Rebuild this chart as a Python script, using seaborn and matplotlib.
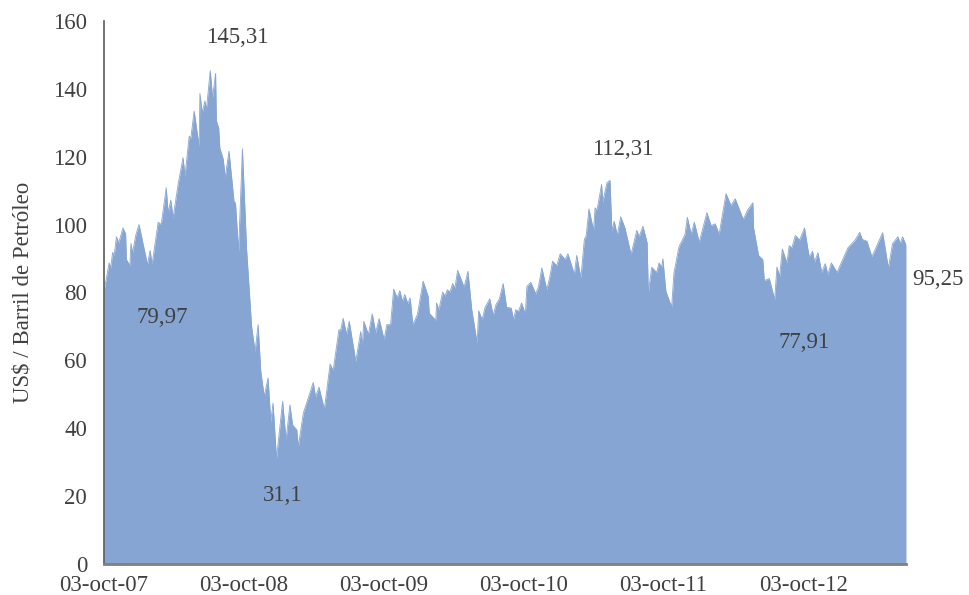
import pandas as pd
import numpy as np
import matplotlib
matplotlib.use("Agg")
import matplotlib.pyplot as plt
import seaborn as sns

# WTI price, US$ per barrel (days after 03-oct-07)
start = pd.Timestamp("2007-10-03")
days = [0, 14, 18, 23, 27, 33, 39, 50, 57, 59, 68, 71, 75, 84, 92, 114, 121, 126,
        142, 150, 163, 168, 175, 181, 194, 207, 212, 223, 227, 236, 249, 251, 257,
        264, 268, 278, 284, 292, 294, 300, 303, 312, 317, 327, 340, 344, 352, 362,
        373, 386, 395, 403, 410, 419, 429, 436, 442, 451, 467, 476, 486, 493, 504,
        508, 521, 547, 553, 562, 576, 591, 599, 614, 619, 625, 634, 641, 658, 671,
        675, 679, 691, 701, 710, 719, 732, 739, 749, 757, 766, 773, 780, 786, 794,
        800, 807, 819, 834, 847, 850, 867, 869, 875, 885, 891, 897, 904, 911, 917,
        924, 941, 951, 961, 975, 979, 988, 996, 1008, 1017, 1024, 1033, 1043, 1052,
        1064, 1070, 1076, 1083, 1091, 1101, 1105, 1115, 1128, 1135, 1144, 1157,
        1165, 1172, 1183, 1192, 1205, 1212, 1229, 1235, 1246, 1255, 1260, 1267,
        1279, 1283, 1288, 1300, 1303, 1314, 1322, 1327, 1333, 1341, 1350, 1361,
        1377, 1392, 1398, 1408, 1419, 1422, 1431, 1444, 1450, 1457, 1460, 1468,
        1483, 1489, 1502, 1518, 1524, 1534, 1542, 1555, 1575, 1586, 1597, 1607,
        1625, 1638, 1649, 1670, 1681, 1695, 1697, 1710, 1721, 1725, 1738, 1752,
        1758, 1765, 1772, 1784, 1790, 1797, 1806, 1817, 1830, 1842, 1851, 1856,
        1865, 1875, 1884, 1891, 1900, 1915, 1943, 1962, 1974, 1981, 1993, 2006,
        2034, 2049, 2060, 2074, 2080, 2086, 2095]
prices = [79.97, 88.7, 87.2, 91.8, 90.7, 96.4, 94.6, 99.0, 97.3, 89.7, 87.9, 94.4,
          91.7, 97.1, 100.0, 88.2, 92.4, 88.2, 100.7, 100.0, 110.8, 103.5, 107.2,
          102.0, 111.8, 119.7, 114.3, 126.0, 125.3, 133.4, 122.9, 138.6, 132.9,
          136.4, 133.9, 145.31, 137.4, 144.5, 130.5, 128.5, 122.6, 119.2, 113.8,
          121.6, 106.9, 106.2, 92.1, 122.3, 92.6, 70.0, 62.6, 70.5, 56.7, 49.4,
          54.8, 42.0, 47.4, 31.1, 47.9, 36.6, 46.9, 41.0, 39.5, 34.6, 44.4, 53.5,
          49.2, 52.1, 45.6, 58.9, 57.0, 69.0, 69.0, 72.4, 67.6, 71.5, 59.7, 68.5,
          64.1, 71.5, 67.6, 73.7, 68.2, 72.3, 66.1, 70.5, 70.5, 81.0, 78.4, 80.5,
          77.4, 79.4, 76.7, 78.4, 70.5, 73.5, 83.3, 78.9, 73.9, 71.8, 76.9, 74.9,
          80.1, 78.9, 80.8, 80.1, 82.6, 81.3, 86.5, 81.6, 86.2, 74.9, 65.1, 74.6,
          72.0, 75.7, 78.1, 73.2, 76.4, 78.1, 82.6, 75.6, 75.4, 72.0, 74.9, 74.4,
          76.9, 73.7, 81.8, 83.0, 79.6, 81.6, 87.2, 80.8, 84.7, 89.2, 87.9, 91.4,
          89.7, 91.4, 85.3, 90.9, 84.3, 95.6, 96.8, 104.6, 98.3, 104.9, 104.2,
          111.8, 106.6, 112.3, 113.0, 98.0, 101.0, 96.8, 102.3, 99.0, 91.2, 98.3,
          96.4, 99.5, 94.6, 79.9, 87.4, 85.9, 88.7, 87.4, 89.9, 80.3, 75.7, 85.7,
          93.4, 97.1, 102.1, 97.1, 100.7, 94.8, 103.5, 99.7, 100.2, 97.1, 109.1,
          105.6, 107.6, 101.5, 104.2, 106.4, 99.0, 90.9, 89.7, 83.5, 84.1, 77.91,
          87.5, 84.7, 92.8, 88.7, 93.8, 93.1, 96.8, 95.4, 99.0, 90.5, 92.1, 89.0,
          91.7, 85.9, 88.5, 85.3, 88.7, 85.9, 93.1, 95.4, 97.7, 95.6, 95.1, 90.5,
          97.6, 87.2, 94.4, 96.4, 94.4, 96.4, 94.0]

tick_years = [2007, 2008, 2009, 2010, 2011, 2012]
tick_labels = ["03-oct-07", "03-oct-08", "03-oct-09", "03-oct-10", "03-oct-11", "03-oct-12"]

# labelled points: (index into the series, text, offset in pixels)
notes = [(0, "79,97", (58, -25)),
         (prices.index(145.31), "145,31", (27, 33)),
         (prices.index(31.1), "31,1", (6, -37)),
         (prices.index(113.0), "112,31", (13, 31)),
         (prices.index(77.91), "77,91", (29, -43)),
         (len(prices) - 1, "95,25", (32, -35))]

df = pd.DataFrame({"fecha": start + pd.to_timedelta(days, unit="D"), "precio": prices})

sns.set_style("white")
plt.rcParams["font.family"] = ["Liberation Serif", "DejaVu Serif"]
txt = "#404040"
fill = "#86a5d3"

fig = plt.figure(figsize=(9.7, 5.95), dpi=100)
ax = fig.add_axes([0.107, 0.052, 0.827, 0.913])

ax.fill_between(df["fecha"], df["precio"], color=fill, linewidth=0)
sns.lineplot(data=df, x="fecha", y="precio", ax=ax, color=fill, linewidth=0.6)

ax.set_xlim(df["fecha"].iloc[0], df["fecha"].iloc[-1])
ax.set_ylim(0, 160)
ax.set_yticks(range(0, 161, 20))
ax.set_xticks([pd.Timestamp(f"{y}-10-03") for y in tick_years])
ax.set_xticklabels(tick_labels)
ax.tick_params(axis="y", length=0, pad=12, labelsize=16.5, labelcolor=txt)
ax.tick_params(axis="x", length=0, pad=8, labelsize=16.5, labelcolor=txt)

ax.set_xlabel("")
ax.set_ylabel("US$ / Barril de Petróleo", fontsize=16.5, color=txt, labelpad=14)

for side in ["top", "right"]:
    ax.spines[side].set_visible(False)
ax.spines["left"].set_color("#595959")
ax.spines["left"].set_linewidth(1.2)
ax.spines["bottom"].set_color("#7f7f7f")
ax.spines["bottom"].set_linewidth(2)

for i, label, off in notes:
    ax.annotate(label, xy=(df["fecha"].iloc[i], df["precio"].iloc[i]),
                xytext=off, textcoords="offset pixels", ha="center", va="center",
                fontsize=16.5, color=txt, annotation_clip=False)

fig.savefig("out.png", dpi=100)
